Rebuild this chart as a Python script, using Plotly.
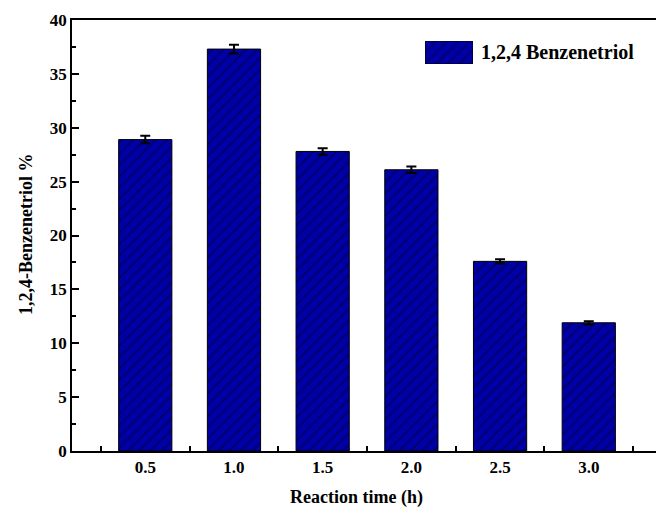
import plotly.graph_objects as go

times = [0.5, 1.0, 1.5, 2.0, 2.5, 3.0]
tick_text = ["0.5", "1.0", "1.5", "2.0", "2.5", "3.0"]
values = [28.9, 37.3, 27.8, 26.1, 17.6, 11.9]
errors = [0.35, 0.4, 0.3, 0.3, 0.2, 0.15]
series_name = "1,2,4 Benzenetriol"

FONT = "Liberation Serif"
BAR = "#0000a6"
HATCH = "#00003c"
pattern = dict(shape="/", fgcolor=HATCH, bgcolor=BAR, size=8, solidity=0.25, fillmode="overlay")

fig = go.Figure()
fig.add_trace(go.Bar(
    x=times, y=values, width=0.3, name=series_name,
    marker=dict(color=BAR, line=dict(color="black", width=1), pattern=pattern),
    error_y=dict(type="data", array=errors, color="black", thickness=2, width=5),
    showlegend=False,
))
# legend swatch
fig.add_trace(go.Bar(
    x=[0], y=[1], width=1, xaxis="x2", yaxis="y2", showlegend=False, hoverinfo="skip",
    marker=dict(color=BAR, line=dict(color="black", width=1), pattern=pattern),
))

W, H = 656, 513
L, T, B = 72, 20, 62
pw = W - L
ph = H - T - B

def px(x):
    return (x - L) / pw

def py(y):
    return (H - B - y) / ph

fig.update_layout(
    width=W, height=H,
    margin=dict(l=L, r=0, t=T, b=B),
    paper_bgcolor="white", plot_bgcolor="white",
    font=dict(family=FONT, size=17, color="black"),
    xaxis=dict(
        range=[0.087, 0.087 + pw / 177.4],
        tickvals=times, ticktext=tick_text, ticks="",
        tickfont=dict(family=FONT, size=17, color="black", weight="bold"),
        showline=True, linecolor="black", linewidth=1.5, mirror=True,
        showgrid=False, zeroline=False,
        minor=dict(ticks="inside", tick0=0.25, dtick=0.5, ticklen=5, tickcolor="black", tickwidth=1.5),
    ),
    yaxis=dict(
        range=[0, 40], tickvals=[0, 5, 10, 15, 20, 25, 30, 35, 40],
        ticks="inside", ticklen=7, tickwidth=1.5, tickcolor="black",
        tickfont=dict(family=FONT, size=17, color="black", weight="bold"),
        showline=True, linecolor="black", linewidth=1.5,
        showgrid=False, zeroline=False,
        minor=dict(ticks="inside", tick0=2.5, dtick=5, ticklen=4, tickcolor="black", tickwidth=1.5),
    ),
    xaxis2=dict(domain=[px(425), px(473)], range=[-0.5, 0.5], anchor="y2", visible=False, fixedrange=True),
    yaxis2=dict(domain=[py(64), py(41)], range=[0, 1], anchor="x2", visible=False, fixedrange=True),
    annotations=[
        dict(text="<b>" + series_name + "</b>", x=px(479), y=py(52.5), xref="paper", yref="paper",
             xanchor="left", yanchor="middle", showarrow=False, font=dict(family=FONT, size=20)),
        dict(text="<b>Reaction time (h)</b>", x=px(356), y=py(497), xref="paper", yref="paper",
             xanchor="center", yanchor="middle", showarrow=False, font=dict(family=FONT, size=18)),
        dict(text="<b>1,2,4-Benzenetriol %</b>", x=px(26), y=py(235), xref="paper", yref="paper",
             xanchor="center", yanchor="middle", textangle=-90, showarrow=False, font=dict(family=FONT, size=18)),
    ],
)

fig.write_html("out.html")
